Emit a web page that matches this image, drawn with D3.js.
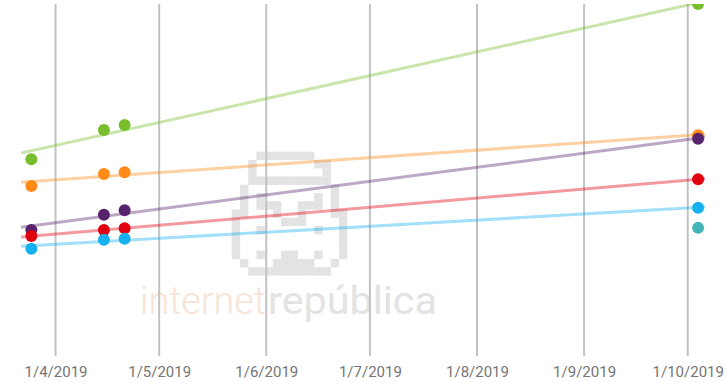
<!DOCTYPE html>
<html>
<head>
<meta charset="utf-8">
<script src="https://cdn.jsdelivr.net/npm/d3@7"></script>
<style>
  html, body { margin: 0; padding: 0; background: #fff; }
  svg { display: block; }
</style>
</head>
<body>
<svg id="chart" width="725" height="382"></svg>
<script>
// Measurement dates (UTC) shared by every series
const dates = ["2019-03-25", "2019-04-15", "2019-04-21", "2019-10-04"];

// Series values, one per measurement date (null = no measurement)
const greenValues  = [55.9, 64.2, 65.6, 100.0];
const orangeValues = [48.3, 51.7, 52.2, 62.7];
const purpleValues = [35.8, 40.1, 41.4, 61.7];
const redValues    = [34.1, 35.8, 36.3, 50.2];
const blueValues   = [30.5, 33.0, 33.3, 42.1];
const tealValues   = [null, null, null, 36.4];

// Month gridlines and their labels
const tickDates  = ["2019-04-01", "2019-05-01", "2019-06-01", "2019-07-01", "2019-08-01", "2019-09-01", "2019-10-01"];
const tickLabels = ["1/4/2019", "1/5/2019", "1/6/2019", "1/7/2019", "1/8/2019", "1/9/2019", "1/10/2019"];

const series = [
  { key: "green",  color: "#78bd2c", values: greenValues },
  { key: "orange", color: "#ff8a17", values: orangeValues },
  { key: "purple", color: "#58236d", values: purpleValues },
  { key: "red",    color: "#e1000f", values: redValues },
  { key: "blue",   color: "#17b0ef", values: blueValues },
  { key: "teal",   color: "#44b4b8", values: tealValues }
];

const W = 725, H = 382;
const plot = { left: 21, right: 705, top: 4, bottom: 356 };

const parse = d3.utcParse("%Y-%m-%d");
const x = d3.scaleUtc()
  .domain([parse("2019-03-22"), parse("2019-10-06")])
  .range([plot.left, plot.right]);
const y = d3.scaleLinear()
  .domain([0, 100])
  .range([plot.bottom, plot.top]);

const svg = d3.select("#chart");

svg.append("defs").append("clipPath").attr("id", "plotClip")
  .append("rect")
  .attr("x", plot.left).attr("y", plot.top)
  .attr("width", plot.right - plot.left)
  .attr("height", plot.bottom - plot.top);

// Watermark: pixel logo plus wordmark
const logo = [
  "...#######....",
  "..#.......##..",
  "..#........#..",
  "..##########..",
  ".#..........#.",
  ".#.#......#.#.",
  ".#.###..###.#.",
  "##...#..#...##",
  "#.....###....#",
  "#..#......#..#",
  "#............#",
  "#............#",
  "#..#..##..#..#",
  ".#...#####..#.",
  "..##########.."
];
const cell = 8.25, logoX = 231.7, logoY = 151.7;
const logoCells = [];
logo.forEach((row, r) => row.split("").forEach((ch, c) => { if (ch === "#") logoCells.push({ r, c }); }));
const wm = svg.append("g").attr("class", "watermark");
wm.selectAll("rect").data(logoCells).join("rect")
  .attr("x", d => logoX + d.c * cell)
  .attr("y", d => logoY + d.r * cell)
  .attr("width", cell + 0.2)
  .attr("height", cell + 0.2)
  .attr("fill", "#e3e3e3");
wm.append("text")
  .attr("x", 140).attr("y", 314)
  .attr("font-family", "Roboto, sans-serif")
  .attr("font-size", 38).attr("font-weight", 300)
  .attr("fill", "#f7e4d6")
  .attr("textLength", 126).attr("lengthAdjust", "spacingAndGlyphs")
  .text("internet");
wm.append("text")
  .attr("x", 268).attr("y", 314)
  .attr("font-family", "Roboto, sans-serif")
  .attr("font-size", 38).attr("font-weight", 400)
  .attr("fill", "#e3e3e3")
  .attr("textLength", 169).attr("lengthAdjust", "spacingAndGlyphs")
  .text("república");

// Vertical month gridlines with date labels underneath
const xAxis = d3.axisBottom(x)
  .tickValues(tickDates.map(parse))
  .tickSize(0)
  .tickPadding(0)
  .tickFormat((d, i) => tickLabels[i]);

svg.append("g")
  .attr("class", "grid")
  .selectAll("line")
  .data(tickDates.map(parse))
  .join("line")
  .attr("x1", d => x(d)).attr("x2", d => x(d))
  .attr("y1", plot.top).attr("y2", plot.bottom)
  .attr("stroke", "#c2c2c2")
  .attr("stroke-width", 2);

const axisG = svg.append("g")
  .attr("transform", `translate(0,${plot.bottom})`)
  .call(xAxis);
axisG.select(".domain").remove();
axisG.selectAll("text")
  .attr("y", 21)
  .attr("dy", 0)
  .attr("font-family", "Roboto, sans-serif")
  .attr("font-size", 15)
  .attr("fill", "#757575");

// Least-squares trend line per series, across the full x domain
function linearFit(pts) {
  const n = pts.length;
  if (n < 2) return null;
  const mx = d3.mean(pts, p => p.t), my = d3.mean(pts, p => p.v);
  let sxy = 0, sxx = 0;
  pts.forEach(p => { sxy += (p.t - mx) * (p.v - my); sxx += (p.t - mx) * (p.t - mx); });
  if (sxx === 0) return null;
  const slope = sxy / sxx;
  return t => my + slope * (t - mx);
}

const seriesPoints = series.map(s => ({
  ...s,
  points: s.values
    .map((v, i) => ({ date: parse(dates[i]), v }))
    .filter(p => p.v !== null)
}));

const plotG = svg.append("g").attr("clip-path", "url(#plotClip)");

seriesPoints.forEach(s => {
  const fit = linearFit(s.points.map(p => ({ t: +p.date, v: p.v })));
  if (!fit) return;
  const [d0, d1] = x.domain();
  plotG.append("line")
    .attr("x1", x(d0)).attr("y1", y(fit(+d0)))
    .attr("x2", x(d1)).attr("y2", y(fit(+d1)))
    .attr("stroke", s.color)
    .attr("stroke-opacity", 0.4)
    .attr("stroke-width", 3);
});

seriesPoints.forEach(s => {
  plotG.append("g")
    .selectAll("circle")
    .data(s.points)
    .join("circle")
    .attr("cx", p => x(p.date))
    .attr("cy", p => y(p.v))
    .attr("r", 6)
    .attr("fill", s.color);
});
</script>
</body>
</html>
